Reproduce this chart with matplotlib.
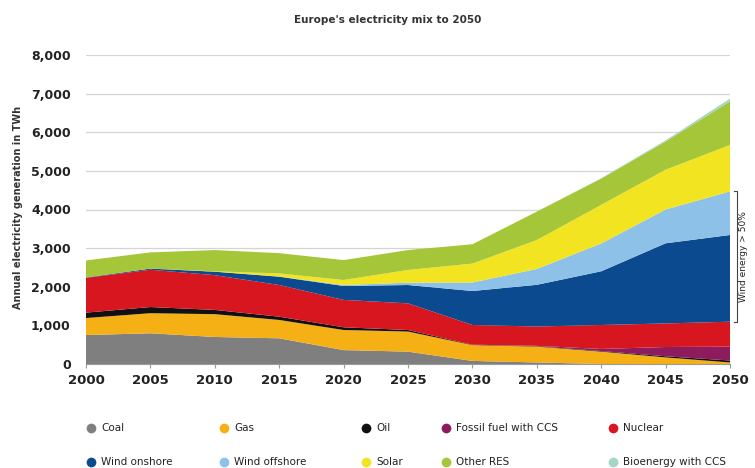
import numpy as np
import matplotlib
matplotlib.use("Agg")
import matplotlib.pyplot as plt

years = [2000, 2005, 2010, 2015, 2020, 2025, 2030, 2035, 2040, 2045, 2050]
coal = [750, 795, 700, 665, 360, 320, 80, 40, 0, 0, 0]
gas = [440, 520, 590, 475, 520, 520, 410, 410, 320, 170, 40]
oil = [140, 160, 110, 85, 70, 40, 10, 10, 15, 30, 50]
fossil_ccs = [0, 0, 0, 0, 0, 0, 0, 10, 55, 240, 360]
nuclear = [900, 965, 900, 820, 710, 690, 510, 500, 620, 610, 645]
wind_onshore = [10, 30, 90, 215, 360, 475, 880, 1080, 1390, 2075, 2245]
wind_offshore = [0, 0, 0, 5, 25, 60, 220, 410, 720, 875, 1130]
solar = [0, 0, 10, 80, 130, 330, 490, 750, 1000, 1030, 1200]
other_res = [440, 420, 550, 525, 515, 515, 500, 735, 680, 730, 1130]
bio_ccs = [0, 0, 0, 0, 0, 0, 0, 0, 10, 30, 70]

labels = ["Coal", "Gas", "Oil", "Fossil fuel with CCS", "Nuclear",
          "Wind onshore", "Wind offshore", "Solar", "Other RES", "Bioenergy with CCS"]
colors = ["#7f7f7f", "#f5b015", "#111111", "#8e1b5e", "#d8161f",
          "#0c4a8f", "#8ec1e8", "#f2e421", "#a6c63a", "#a3d6c4"]
series = [coal, gas, oil, fossil_ccs, nuclear, wind_onshore, wind_offshore,
          solar, other_res, bio_ccs]

title = "Europe's electricity mix to 2050"
ylabel = "Annual electricity generation in TWh"
bracket_text = "Wind energy > 50%"

fig = plt.figure(figsize=(7.55, 4.68), dpi=100)
ax = fig.add_axes([86/755, 1-364/468, (730-86)/755, (364-55)/468])

ax.stackplot(years, *series, colors=colors, linewidth=0, zorder=2)
ax.set_xlim(2000, 2050)
ax.set_ylim(0, 8000)
ax.set_xticks(years)
ax.set_yticks(range(0, 8001, 1000))
ax.set_yticklabels([f"{v:,}" for v in range(0, 8001, 1000)])
ax.yaxis.grid(True, color="#d4d4d4", linewidth=0.9, zorder=0)
ax.set_axisbelow(True)
for s in ["top", "right", "left"]:
    ax.spines[s].set_visible(False)
ax.spines["bottom"].set_color("#9a9a9a")
ax.spines["bottom"].set_linewidth(0.8)
ax.spines["bottom"].set_zorder(3)
ax.tick_params(axis="y", length=0, pad=11, labelsize=9, labelcolor="#222222")
ax.tick_params(axis="x", length=3, width=0.8, color="#9a9a9a", pad=4,
               labelsize=9.5, labelcolor="#222222")
for lab in ax.get_xticklabels() + ax.get_yticklabels():
    lab.set_fontweight("bold")

ax.set_ylabel(ylabel, fontsize=7, fontweight="bold", color="#333333")
ax.yaxis.set_label_coords(-63/644, (364-207)/309)

fig.text(388/755, 1-20/468, title, ha="center", va="center", fontsize=7.5,
         fontweight="bold", color="#333333")

# bracket for wind energy
cum = np.cumsum(np.array(series), axis=0)
y_bot = cum[4][-1]
y_top = cum[6][-1]
xb = 2050 + 7/12.88
xt = 2050 + 4/12.88
ax.plot([xt, xb, xb, xt], [y_top, y_top, y_bot, y_bot], color="#444444",
        linewidth=0.8, clip_on=False, zorder=4)
ax.text(2050 + 13/12.88, (y_top + y_bot) / 2, bracket_text, rotation=90,
        ha="center", va="center", fontsize=6.5, color="#222222", clip_on=False)

# legend
lax = fig.add_axes([0, 0, 1, 1])
lax.set_xlim(0, 755)
lax.set_ylim(468, 0)
lax.axis("off")
col_x = [91, 224, 366, 446, 613]
row_y = [428, 462]
for i, (lab, c) in enumerate(zip(labels, colors)):
    r, k = divmod(i, 5)
    lax.plot(col_x[k], row_y[r], "o", color=c, markersize=7, markeredgewidth=0)
    lax.text(col_x[k] + 10, row_y[r], lab, ha="left", va="center", fontsize=7.5,
             color="#222222")

fig.savefig("out.png", dpi=100)
